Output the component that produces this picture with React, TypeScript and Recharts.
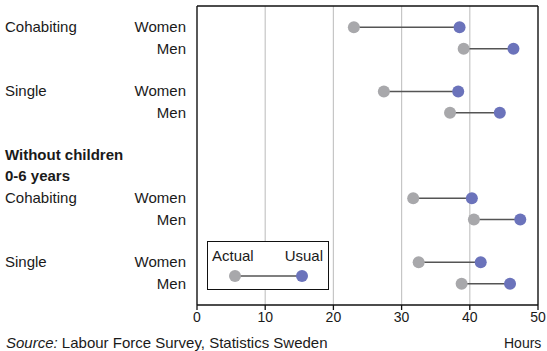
import {
    ScatterChart,
    Scatter,
    XAxis,
    YAxis,
    CartesianGrid,
    ReferenceLine,
} from "recharts";

const groupLabels = ["Cohabiting", "", "Single", "", "Cohabiting", "", "Single", ""];
const genderLabels = ["Women", "Men", "Women", "Men", "Women", "Men", "Women", "Men"];
const rowSlots = [0, 1, 3, 4, 8, 9, 11, 12];
const actualHours = [23.0, 39.1, 27.4, 37.1, 31.7, 40.6, 32.5, 38.8];
const usualHours = [38.5, 46.4, 38.3, 44.4, 40.3, 47.4, 41.6, 45.9];
const headingLines = ["Without children", "0-6 years"];
const headingSlots = [6, 7];
const xTicks = [0, 10, 20, 30, 40, 50];

const FONT = '"Liberation Sans", Arial, Helvetica, sans-serif';
const GRAY = "#a8a8ab";
const BLUE = "#6b73bb";

const actualData = rowSlots.map((s, i) => ({ x: actualHours[i], y: s }));
const usualData = rowSlots.map((s, i) => ({ x: usualHours[i], y: s }));

const Dot = (props: any) => {
    const { cx, cy, fill } = props;
    return <circle cx={cx} cy={cy} r={6} fill={fill} />;
};

const RowTick = (props: any) => {
    const { y, payload } = props;
    const v = payload.value;
    const ri = rowSlots.indexOf(v);
    const hi = headingSlots.indexOf(v);
    if (ri >= 0) {
        return (
            <g fontFamily={FONT} fontSize={15} fill="#1a1a1a">
                <text x={5} y={y} dy={5} textAnchor="start">
                    {groupLabels[ri]}
                </text>
                <text x={186} y={y} dy={5} textAnchor="end">
                    {genderLabels[ri]}
                </text>
            </g>
        );
    }
    if (hi >= 0) {
        return (
            <text x={5} y={y} dy={4} fontFamily={FONT} fontSize={15} fontWeight="bold" fill="#1a1a1a">
                {headingLines[hi]}
            </text>
        );
    }
    return null;
};

export default function App() {
    return (
        <div style={{ position: "absolute", left: 0, top: 0, width: 547, height: 351, background: "#fff" }}>
            <ScatterChart
                width={547}
                height={351}
                margin={{ top: 6, right: 9, bottom: 16, left: 0 }}
            >
                <CartesianGrid horizontal={false} stroke="#c6c6c6" strokeWidth={1.2} />
                <XAxis
                    type="number"
                    dataKey="x"
                    domain={[0, 50]}
                    ticks={xTicks}
                    interval={0}
                    height={30}
                    stroke="#111"
                    strokeWidth={1.3}
                    tickSize={5}
                    tick={{ fill: "#1a1a1a", fontSize: 14, fontFamily: FONT }}
                />
                <YAxis
                    type="number"
                    dataKey="y"
                    domain={[-1, 13]}
                    reversed
                    ticks={[...rowSlots, ...headingSlots]}
                    interval={0}
                    width={197}
                    tickLine={false}
                    stroke="#111"
                    strokeWidth={1.3}
                    tick={<RowTick />}
                />
                <ReferenceLine x={50} stroke="#111" strokeWidth={1.3} />
                <ReferenceLine y={-1} stroke="#111" strokeWidth={1.3} />
                {rowSlots.map((s, i) => (
                    <ReferenceLine
                        key={i}
                        segment={[
                            { x: actualHours[i], y: s },
                            { x: usualHours[i], y: s },
                        ]}
                        stroke="#555"
                        strokeWidth={1.5}
                    />
                ))}
                <Scatter data={actualData} fill={GRAY} shape={<Dot />} isAnimationActive={false} />
                <Scatter data={usualData} fill={BLUE} shape={<Dot />} isAnimationActive={false} />
            </ScatterChart>

            <div
                style={{
                    position: "absolute",
                    left: 207,
                    top: 241,
                    width: 120,
                    height: 47,
                    border: "1.5px solid #111",
                    background: "#fff",
                    fontFamily: FONT,
                    fontSize: 15,
                    color: "#1a1a1a",
                }}
            >
                <span style={{ position: "absolute", left: 4, top: 5 }}>Actual</span>
                <span style={{ position: "absolute", right: 5, top: 5 }}>Usual</span>
                <svg width={120} height={47} style={{ position: "absolute", left: 0, top: 0 }}>
                    <line x1={27} y1={34} x2={94} y2={34} stroke="#555" strokeWidth={1.5} />
                    <circle cx={27} cy={34} r={6} fill={GRAY} />
                    <circle cx={94} cy={34} r={6} fill={BLUE} />
                </svg>
            </div>

            <div style={{ position: "absolute", left: 6, top: 335, lineHeight: "15px", fontFamily: FONT, fontSize: 15, color: "#1a1a1a", whiteSpace: "nowrap" }}>
                <i>Source:</i> Labour Force Survey, Statistics Sweden
            </div>
            <div style={{ position: "absolute", left: 504, top: 336, lineHeight: "14px", fontFamily: FONT, fontSize: 14, color: "#1a1a1a" }}>
                Hours
            </div>
        </div>
    );
}
